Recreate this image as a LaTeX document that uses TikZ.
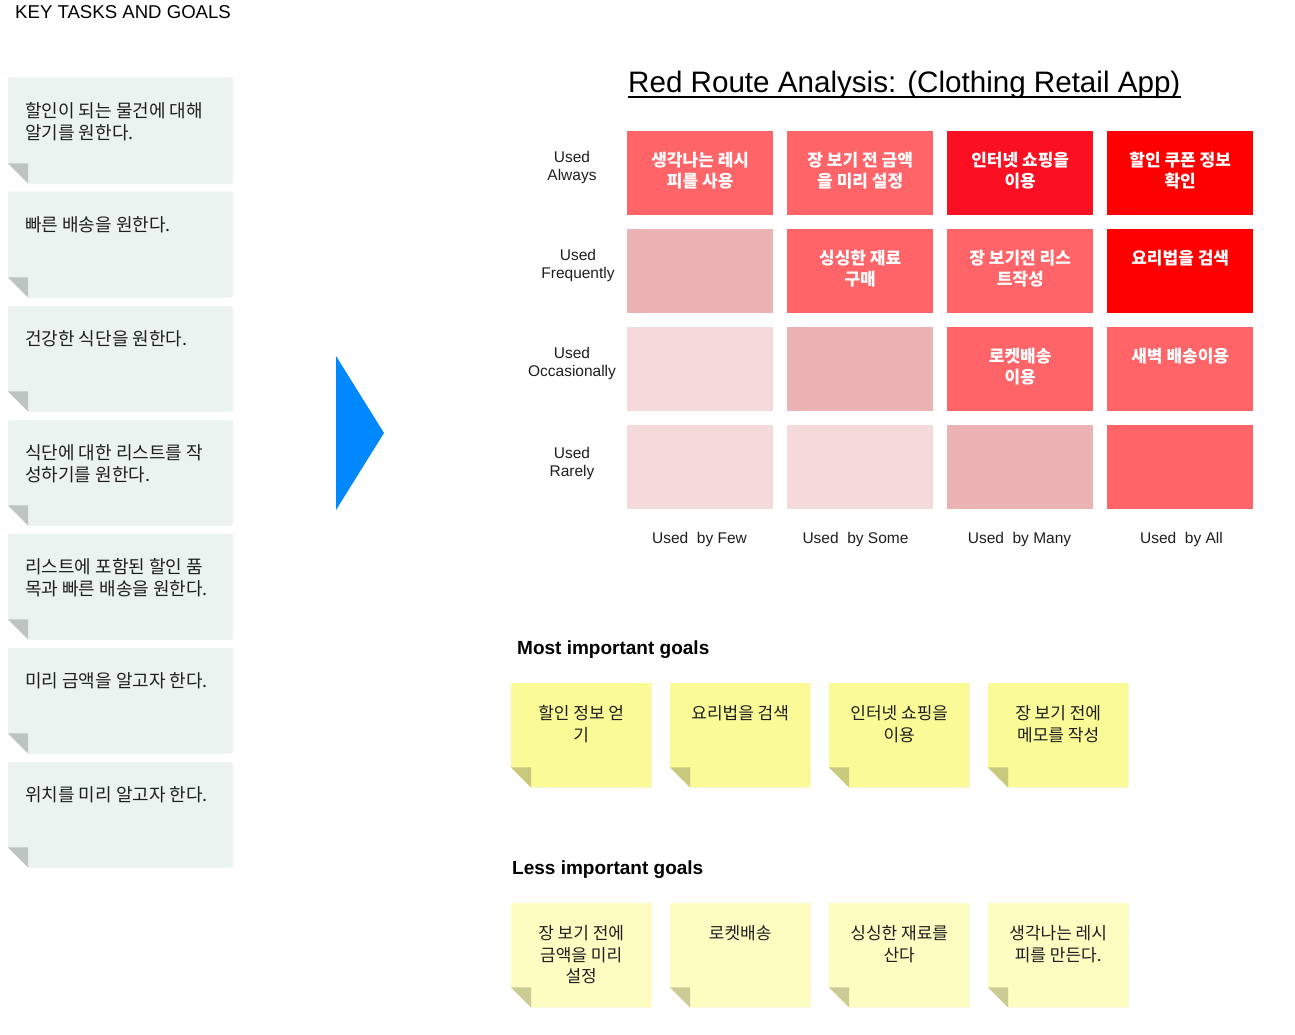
\documentclass[tikz,border=0pt]{standalone}
\usepackage{fontspec}
\setmainfont{Liberation Sans}
\newfontfamily\kr{Noto Sans CJK KR}
\usetikzlibrary{calc}
\definecolor{notemint}{HTML}{EBF3F0}
\definecolor{foldmint}{HTML}{BDC4C1}
\definecolor{noteyel}{HTML}{FAFA96}
\definecolor{foldyel}{HTML}{C9C97E}
\definecolor{notepale}{HTML}{FDFDC2}
\definecolor{foldpale}{HTML}{CBCB96}
\definecolor{cLight}{HTML}{F5DADB}
\definecolor{cMed}{HTML}{ECB3B5}
\definecolor{cCoral}{HTML}{FF6469}
\definecolor{cDeep}{HTML}{FA0F23}
\definecolor{cRed}{HTML}{FF0000}
\definecolor{arrowblue}{HTML}{0088FF}
\definecolor{inkdark}{HTML}{1E1E1E}
\newcommand\stickynote[6]{%
  \node[#4, anchor=north west] (#1) at (#2,#3) {};
  \fill[black!12, xshift=1.2pt, yshift=-1.2pt] (#1.north west) -- (#1.north east) -- (#1.south east) -- ($(#1.south west)+(20,0)$) -- ($(#1.south west)+(0,-20)$) -- cycle;
  \fill[#5] (#1.north west) -- (#1.north east) -- (#1.south east) -- ($(#1.south west)+(20,0)$) -- ($(#1.south west)+(0,-20)$) -- cycle;
  \fill[#6] ($(#1.south west)+(0,-20)$) -- ($(#1.south west)+(20,-20)$) -- ($(#1.south west)+(20,0)$) -- cycle;
}
\newcommand\rrcell[5]{%
  \node[cell, fill=#4] (#1) at (#2,#3) {};
  \node[celltext] (#1t) at ($(#1.north)+(0,20.5)$) {#5};
}
\begin{document}
\begin{tikzpicture}[x=1pt,y=-1pt,
  cell/.style={minimum width=146pt, minimum height=84pt, inner sep=0, anchor=north west, draw=none},
  celltext/.style={font=\kr\bfseries\fontsize{17}{21}\selectfont, text=white, align=center, inner sep=0, anchor=north},
  lbl/.style={font=\fontsize{15.5}{18}\selectfont, align=center, text=inkdark, inner sep=0},
  leftbox/.style={minimum width=224pt, minimum height=105pt, inner sep=0, draw=none},
  goalbox/.style={minimum width=140pt, minimum height=104pt, inner sep=0, draw=none},
  lefttext/.style={font=\kr\fontsize{18}{22}\selectfont, text=inkdark, align=left, inner sep=0, anchor=north west},
  goaltext/.style={font=\kr\fontsize{17}{21.5}\selectfont, text=inkdark, align=center, inner sep=0, anchor=north},
  heading/.style={font=\bfseries\fontsize{19}{22}\selectfont, text=black, inner sep=0, anchor=base west}
]
\useasboundingbox (0,0) rectangle (1295,1035);

% header
\node[font=\fontsize{18.6}{20}\selectfont, anchor=base west, inner sep=0, text=black] (keyhead) at (15,19) {KEY TASKS AND GOALS};

% left notes
\foreach \i/\y/\txt in {1/78/{할인이 되는 물건에 대해\\알기를 원한다.},
                         2/192/{빠른 배송을 원한다.},
                         3/306/{건강한 식단을 원한다.},
                         4/420/{식단에 대한 리스트를 작\\성하기를 원한다.},
                         5/534/{리스트에 포함된 할인 품\\목과 빠른 배송을 원한다.},
                         6/648/{미리 금액을 알고자 한다.},
                         7/762/{위치를 미리 알고자 한다.}} {
  \stickynote{task\i}{8}{\y}{leftbox}{notemint}{foldmint}
  \node[lefttext] (task\i t) at ($(task\i.north west)+(17,24)$) {\txt};
}

% arrow
\coordinate (arA) at (336,356);
\coordinate (arB) at (384,433);
\coordinate (arC) at (336,510);
\fill[arrowblue] (arA) -- (arB) -- (arC) -- cycle;

% title
\node[font=\fontsize{29.6}{32}\selectfont, anchor=base west, inner sep=0, text=black] (title) at (628,93) {Red Route Analysis: (Clothing Retail App)};
\draw[line width=2pt, black] ($(title.base west)+(0,4.5)$) coordinate (ulA) -- ($(title.base east)+(0,4.5)$) coordinate (ulB);

% grid
\rrcell{c11}{627}{131}{cCoral}{생각나는 레시\\피를 사용}
\rrcell{c12}{787}{131}{cCoral}{장 보기 전 금액\\을 미리 설정}
\rrcell{c13}{947}{131}{cDeep}{인터넷 쇼핑을\\이용}
\rrcell{c14}{1107}{131}{cRed}{할인 쿠폰 정보\\확인}
\rrcell{c21}{627}{229}{cMed}{}
\rrcell{c22}{787}{229}{cCoral}{싱싱한 재료\\구매}
\rrcell{c23}{947}{229}{cCoral}{장 보기전 리스\\트작성}
\rrcell{c24}{1107}{229}{cRed}{요리법을 검색}
\rrcell{c31}{627}{327}{cLight}{}
\rrcell{c32}{787}{327}{cMed}{}
\rrcell{c33}{947}{327}{cCoral}{로켓배송\\이용}
\rrcell{c34}{1107}{327}{cCoral}{새벽 배송이용}
\rrcell{c41}{627}{425}{cLight}{}
\rrcell{c42}{787}{425}{cLight}{}
\rrcell{c43}{947}{425}{cMed}{}
\rrcell{c44}{1107}{425}{cCoral}{}

% row labels
\node[lbl] (r1) at (572,167) {Used\\Always};
\node[lbl] (r2) at (578,265) {Used\\Frequently};
\node[lbl] (r3) at (572,363) {Used\\Occasionally};
\node[lbl] (r4) at (572,463) {Used\\Rarely};

% column labels
\node[lbl] (k1) at (699.5,539.5) {Used~ by Few};
\node[lbl] (k2) at (855.5,539.5) {Used~ by Some};
\node[lbl] (k3) at (1019.5,539.5) {Used~ by Many};
\node[lbl] (k4) at (1181.5,539.5) {Used~ by All};

% goals
\node[heading] (mostg) at (517,654) {Most important goals};
\node[heading] (lessg) at (512,874) {Less important goals};

\foreach \i/\x/\txt in {1/511/{할인 정보 얻\\기}, 2/670/{요리법을 검색}, 3/829/{인터넷 쇼핑을\\이용}, 4/988/{장 보기 전에\\메모를 작성}} {
  \stickynote{mg\i}{\x}{683}{goalbox}{noteyel}{foldyel}
  \node[goaltext] (mg\i t) at ($(mg\i.north)+(0,22.5)$) {\txt};
}
\foreach \i/\x/\txt in {1/511/{장 보기 전에\\금액을 미리\\설정}, 2/670/{로켓배송}, 3/829/{싱싱한 재료를\\산다}, 4/988/{생각나는 레시\\피를 만든다.}} {
  \stickynote{lg\i}{\x}{903}{goalbox}{notepale}{foldpale}
  \node[goaltext] (lg\i t) at ($(lg\i.north)+(0,22.5)$) {\txt};
}
\end{tikzpicture}
\end{document}
